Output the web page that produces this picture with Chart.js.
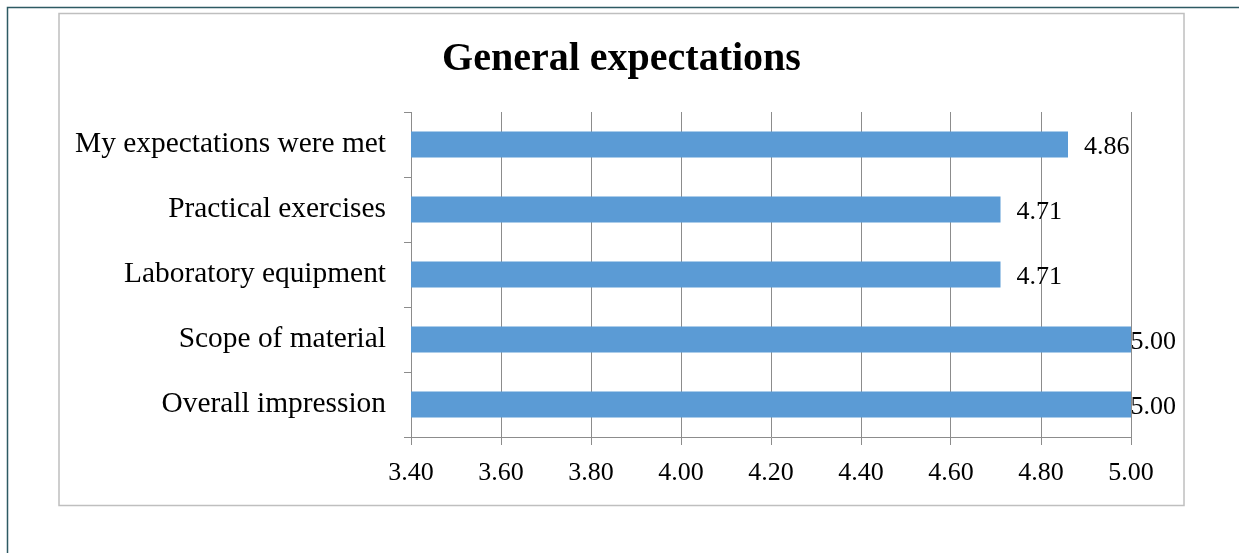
<!DOCTYPE html>
<html>
<head>
<meta charset="utf-8">
<script src="https://cdn.jsdelivr.net/npm/chart.js@4.4.1/dist/chart.umd.min.js"></script>
<style>
  html, body { margin: 0; padding: 0; background: #ffffff; }
  #wrap { position: relative; width: 1239px; height: 553px; overflow: hidden; }
  canvas { position: absolute; left: 0; top: 0; }
</style>
</head>
<body>
<div id="wrap"><canvas id="c" width="1239" height="553"></canvas></div>
<script>
const categories = ["My expectations were met", "Practical exercises", "Laboratory equipment", "Scope of material", "Overall impression"];
const values = [4.86, 4.71, 4.71, 5.00, 5.00];
const tickValues = [3.40, 3.60, 3.80, 4.00, 4.20, 4.40, 4.60, 4.80, 5.00];
const titleText = "General expectations";

const FONT = "'Liberation Serif', 'DejaVu Serif', serif";

const frames = {
  id: 'frames',
  beforeDraw(chart) {
    const ctx = chart.ctx;
    ctx.save();
    ctx.fillStyle = '#ffffff';
    ctx.fillRect(0, 0, chart.width, chart.height);
    // page border
    ctx.strokeStyle = '#2d5a63';
    ctx.lineWidth = 1.5;
    ctx.beginPath();
    ctx.moveTo(7.5, 553);
    ctx.lineTo(7.5, 7.5);
    ctx.lineTo(1239, 7.5);
    ctx.stroke();
    // chart box
    ctx.strokeStyle = '#bfbfbf';
    ctx.lineWidth = 1.5;
    ctx.strokeRect(59, 13.5, 1125, 492);
    // title
    ctx.fillStyle = '#000000';
    ctx.font = "bold 40px " + FONT;
    ctx.textAlign = 'center';
    ctx.textBaseline = 'middle';
    ctx.fillText(titleText, 621.5, 60);
    ctx.restore();
  }
};

const valueLabels = {
  id: 'valueLabels',
  afterDatasetsDraw(chart) {
    const ctx = chart.ctx;
    const meta = chart.getDatasetMeta(0);
    ctx.save();
    ctx.font = "26px " + FONT;
    ctx.fillStyle = '#000000';
    ctx.textBaseline = 'middle';
    ctx.textAlign = 'left';
    meta.data.forEach((bar, i) => {
      const txt = values[i].toFixed(2);
      const w = ctx.measureText(txt).width;
      let x = bar.x + 16;
      const maxX = 1176 - w;
      if (x > maxX) x = maxX;
      ctx.fillText(txt, x, bar.y + 3);
    });
    ctx.restore();
  }
};

new Chart(document.getElementById('c'), {
  type: 'bar',
  data: {
    labels: categories,
    datasets: [{
      data: values,
      backgroundColor: '#5b9bd5',
      borderWidth: 0,
      categoryPercentage: 1.0,
      barPercentage: 0.4
    }]
  },
  plugins: [frames, valueLabels],
  options: {
    indexAxis: 'y',
    responsive: false,
    animation: false,
    devicePixelRatio: 1,
    layout: { padding: { left: 0, right: 108, top: 112, bottom: 0 } },
    plugins: {
      legend: { display: false },
      tooltip: { enabled: false },
      title: { display: false }
    },
    scales: {
      x: {
        type: 'linear',
        min: 3.4,
        max: 5.0,
        afterBuildTicks(scale) {
          scale.ticks = tickValues.map(v => ({ value: v }));
        },
        afterFit(scale) { scale.height = 116; },
        grid: {
          display: true,
          color: '#8c8c8c',
          lineWidth: 1,
          drawOnChartArea: true,
          drawTicks: true,
          tickLength: 8,
          tickColor: '#8c8c8c'
        },
        border: { display: true, color: '#8c8c8c', width: 1 },
        ticks: {
          color: '#000000',
          font: { family: FONT, size: 26 },
          padding: 13,
          maxRotation: 0,
          autoSkip: false,
          callback: (v) => Number(v).toFixed(2)
        }
      },
      y: {
        type: 'category',
        offset: true,
        afterFit(scale) { scale.width = 411; },
        grid: {
          display: true,
          offset: true,
          drawOnChartArea: false,
          drawTicks: true,
          tickLength: 7,
          color: '#8c8c8c',
          tickColor: '#8c8c8c'
        },
        border: { display: true, color: '#8c8c8c', width: 1 },
        ticks: {
          color: '#000000',
          font: { family: FONT, size: 29.4 },
          padding: 18,
          autoSkip: false
        }
      }
    }
  }
});
</script>
</body>
</html>
